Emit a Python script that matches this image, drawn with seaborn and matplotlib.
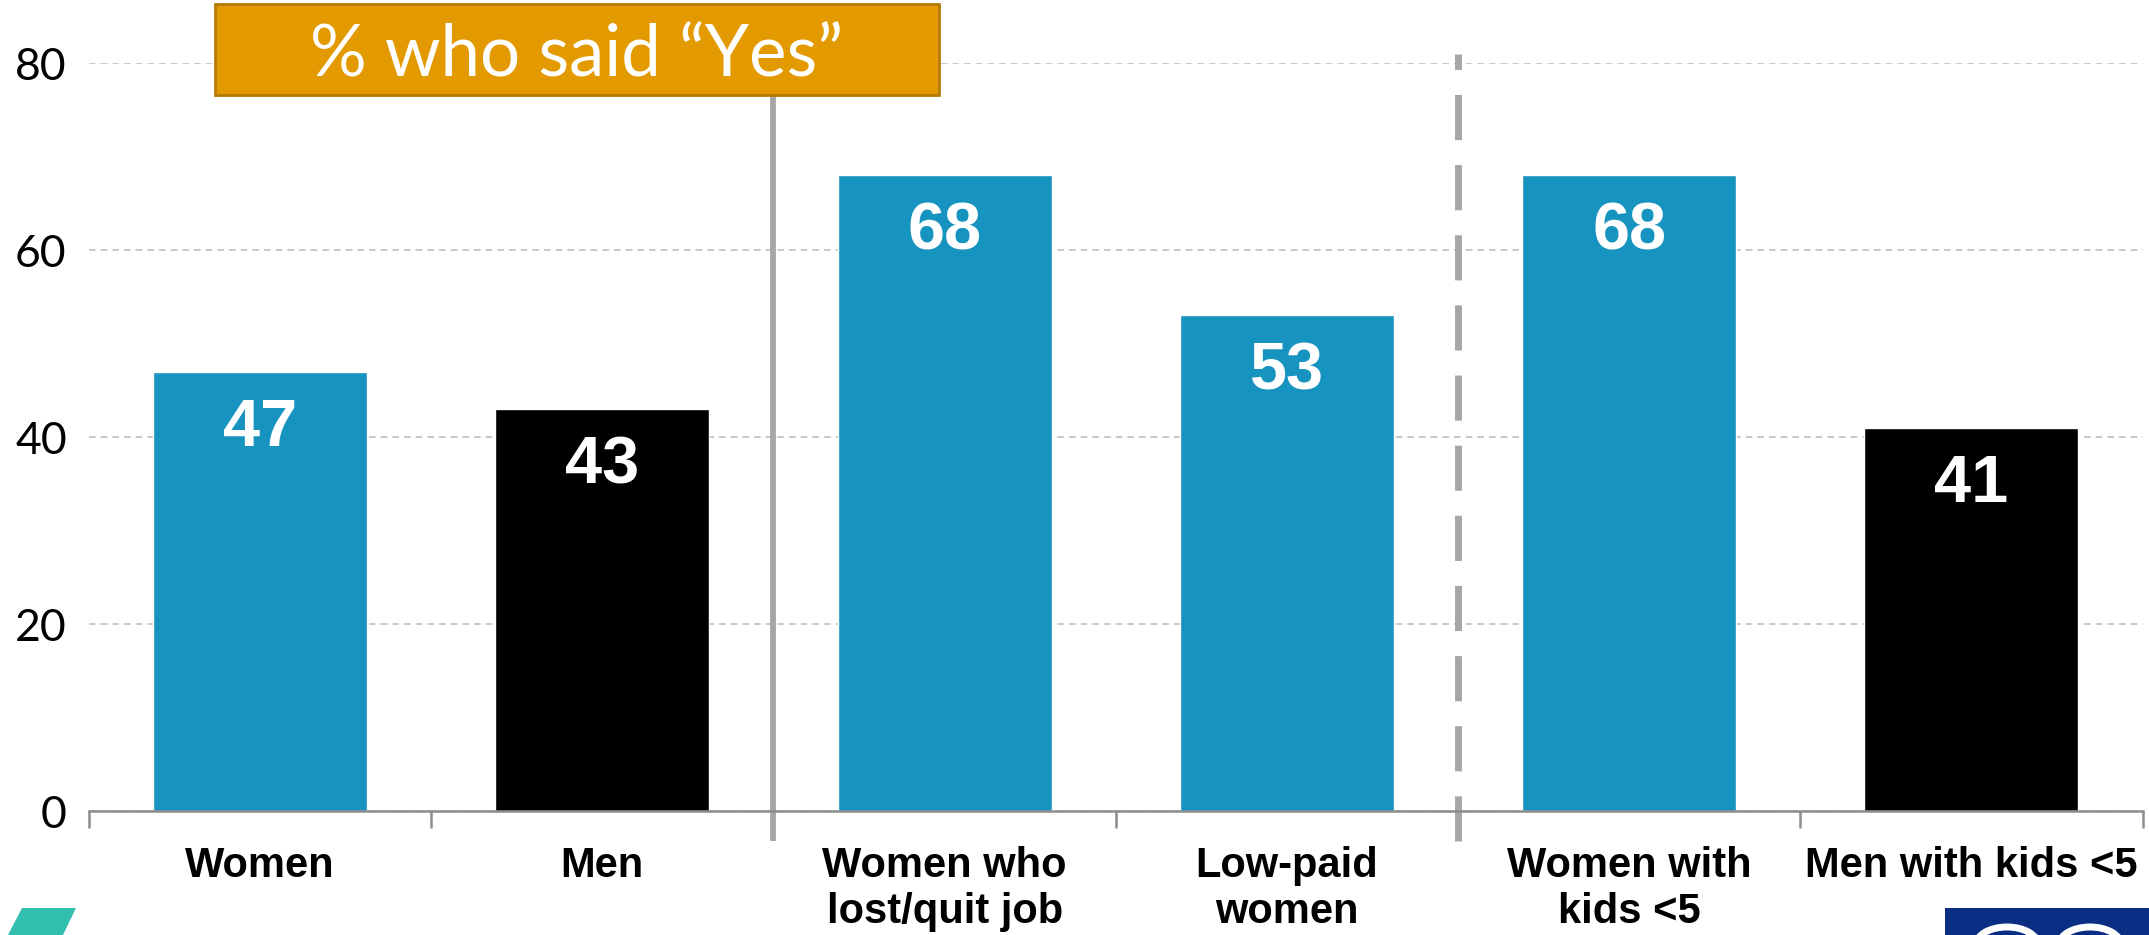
import matplotlib
matplotlib.use("Agg")
import matplotlib.pyplot as plt
from matplotlib.patches import Rectangle, Polygon, Ellipse
from matplotlib.ticker import FixedLocator
import seaborn as sns
import pandas as pd

# Survey results: share answering "Yes", by group
categories = ["Women", "Men", "Women who\nlost/quit job", "Low-paid\nwomen",
              "Women with\nkids <5", "Men with kids <5"]
values = [47, 43, 68, 53, 68, 41]
groups = ["women", "men", "women", "women", "women", "men"]
y_ticks = [0, 20, 40, 60, 80]
title_text = "% who said \u201cYes\u201d"

BLUE = "#1793BF"
BLACK = "#000000"
ORANGE = "#E39A00"
GREY = "#A6A6A6"

sns.set_theme(style="white")
plt.rcParams["font.family"] = ["Lato", "DejaVu Sans"]
plt.rcParams["text.color"] = "black"
plt.rcParams["xtick.color"] = "black"
plt.rcParams["ytick.color"] = "black"

df = pd.DataFrame({"category": categories, "value": values, "group": groups})

fig = plt.figure(figsize=(21.49, 9.35), dpi=100)
ax = fig.add_axes([0.0414, 0.1326, 0.9556, 0.80])

sns.barplot(data=df, x="category", y="value", hue="group",
            palette={"women": BLUE, "men": BLACK}, width=0.625,
            dodge=False, legend=False, saturation=1, ax=ax, zorder=3)

ax.set_ylim(0, 80)
ax.set_xlim(-0.5, len(categories) - 0.5)
ax.set_xlabel("")
ax.set_ylabel("")

# dashed horizontal gridlines
ax.set_yticks(y_ticks)
ax.yaxis.grid(True, color="#BFBFBF", linestyle=(0, (4, 3)), linewidth=1.2, zorder=0)
ax.xaxis.grid(False)
ax.tick_params(axis="y", length=0, pad=16, labelsize=32, labelcolor="black")

# category labels centred, tick marks on the category boundaries
ax.set_xticks(range(len(categories)))
ax.set_xticklabels(categories, fontsize=30, fontweight="bold", color="black",
                   fontfamily=["Liberation Sans", "DejaVu Sans"], linespacing=1.2)
ax.tick_params(axis="x", length=0, pad=25, labelcolor="black")
ax.xaxis.set_minor_locator(FixedLocator([i - 0.5 for i in range(len(categories) + 1)]))
ax.tick_params(axis="x", which="minor", length=12, width=1.8, color="#8C8C8C",
               direction="out", bottom=True)

for side in ["left", "right", "top"]:
    ax.spines[side].set_visible(False)
ax.spines["bottom"].set_color("#8C8C8C")
ax.spines["bottom"].set_linewidth(1.8)
ax.spines["bottom"].set_zorder(4)

# value labels inside the bars
for i, v in enumerate(values):
    ax.text(i, v - 6.1, f"{v}", ha="center", va="center", color="white",
            fontsize=48, fontweight="bold",
            fontfamily=["Liberation Sans", "DejaVu Sans"], zorder=5)

# group separators
ax.plot([1.5, 1.5], [-3.2, 76.6], color=GREY, linewidth=4.2, clip_on=False,
        solid_capstyle="butt", zorder=4)
ax.plot([3.5, 3.5], [-3.2, 81.0], color=GREY, linewidth=5, clip_on=False,
        linestyle=(0, (6.5, 3.6)), zorder=4)

# heading box
W, H = 2149, 935
fig.patches.append(Rectangle((215 / W, 1 - 95 / H), (939 - 215) / W, (95 - 4) / H,
                             transform=fig.transFigure, facecolor=ORANGE,
                             edgecolor="#B57A00", linewidth=2, zorder=10))
fig.text(577 / W, 1 - 56 / H, title_text, ha="center", va="center", color="white",
         fontsize=51, fontfamily=["Lato", "DejaVu Sans"], fontweight="normal", zorder=11)

# partial logos along the bottom edge
fig.patches.append(Polygon([(22 / W, 1 - 908 / H), (76 / W, 1 - 908 / H),
                            (63 / W, 0), (8 / W, 0)], closed=True,
                           transform=fig.transFigure, facecolor="#33BFAE",
                           edgecolor="none", zorder=10))
fig.patches.append(Rectangle((1945 / W, 0), (W - 1945) / W, 27 / H,
                             transform=fig.transFigure, facecolor="#0A2E84",
                             edgecolor="none", zorder=10))
for cx in (2007, 2090):
    fig.patches.append(Ellipse((cx / W, 1 - 945 / H), 62 / W, 36 / H,
                               transform=fig.transFigure, facecolor="none",
                               edgecolor="white", linewidth=5, zorder=11))

fig.savefig("out.png", dpi=100)
